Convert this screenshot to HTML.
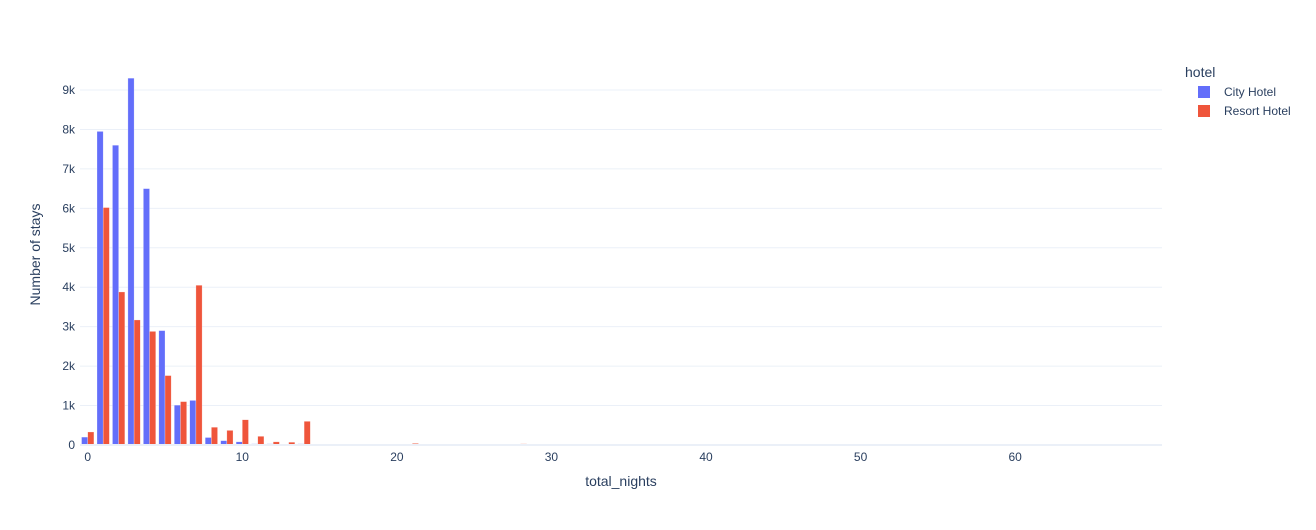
<!DOCTYPE html>
<html><head><meta charset="utf-8">
<style>
body{margin:0;background:#fff;font-family:"Liberation Sans",sans-serif;}
svg text{font-family:"Liberation Sans",sans-serif;fill:#2a3f5f;}
</style></head>
<body>
<svg id="chart" width="1316" height="525"></svg>
<script>
const categories = Array.from({length:70},(_, i)=>i);
const cityValues = [200,7950,7600,9300,6500,2900,1010,1130,190,110,80,30,30,20,30,10,10,8,5,5,5,8,3,3,3,3,3,3,5,2,2,1,1,1,1,1,1,1,1,1,1,1,1,1,1,1,1,1,1,1,1,1,1,1,1,1,1,1,1,1,1,1,1,1,1,1,1,1,1,1];
const resortValues = [330,6020,3880,3170,2880,1760,1100,4050,450,370,640,220,80,70,600,20,10,10,8,8,10,40,5,5,5,5,5,5,30,3,2,2,2,2,2,2,2,2,2,2,2,2,2,2,2,2,2,2,2,2,2,2,2,2,2,2,2,2,2,2,2,2,2,2,2,2,2,2,2,2];
const yTicks = [0,1000,2000,3000,4000,5000,6000,7000,8000,9000];
const yTickLabels = ["0","1k","2k","3k","4k","5k","6k","7k","8k","9k"];
const xTicks = [0,10,20,30,40,50,60];

const NS="http://www.w3.org/2000/svg";
const svg=document.getElementById('chart');
const L=80,R=1162,T=60,B=445;
const xMin=-0.5,xMax=69.5,yMax=9761;
const xs=v=>L+(v-xMin)/(xMax-xMin)*(R-L);
const ys=v=>B-v/yMax*(B-T);
function el(tag,attrs,parent){const e=document.createElementNS(NS,tag);for(const k in attrs)e.setAttribute(k,attrs[k]);(parent||svg).appendChild(e);return e;}

const grid=el('g',{});


yTicks.forEach((t,i)=>{
  if(t>0){const g=el('line',{x1:L,x2:R,y1:ys(t),y2:ys(t),stroke:'#ebf0f8','stroke-width':1},grid);
  
  }
  const tx=el('text',{x:L-5,y:ys(t)+4,'text-anchor':'end','font-size':12});
  tx.textContent=yTickLabels[i];
  
  
});
xTicks.forEach(t=>{
  const tx=el('text',{x:xs(t),y:B+16,'text-anchor':'middle','font-size':12});
  tx.textContent=String(t);
  
  
});
const bars=el('g',{});


const step=(R-L)/(xMax-xMin);
const bw=step*0.8/2;
categories.forEach((c,i)=>{
  const x0=xs(c)-step*0.4;
  [[cityValues[i],'#636efa','bar-city'],[resortValues[i],'#ef553b','bar-resort']].forEach((s,j)=>{
    const v=s[0];
    const r=el('rect',{x:x0+j*bw,y:ys(v),width:bw,height:B-ys(v),fill:s[1],stroke:'#fff','stroke-width':0.5,'stroke-opacity':0.5},bars);
    
    
  });
});
const zl=el('line',{x1:L,x2:R,y1:B,y2:B,stroke:'#ebf0f8','stroke-width':2});


const xt=el('text',{x:(L+R)/2,y:486,'text-anchor':'middle','font-size':14});
xt.textContent='total_nights';


const yt=el('text',{x:0,y:0,'text-anchor':'middle','font-size':14,transform:`translate(40,${(T+B)/2+2}) rotate(-90)`});
yt.textContent='Number of stays';


const lg=el('g',{});


const lt=el('text',{x:1185,y:77,'font-size':14},lg);
lt.textContent='hotel';


[['City Hotel','#636efa',92],['Resort Hotel','#ef553b',111]].forEach(e=>{
  const g=el('g',{},lg);
  
  
  el('rect',{x:1198,y:e[2]-6,width:12,height:12,fill:e[1]},g);
  const t=el('text',{x:1224,y:e[2]+4,'font-size':12},g);
  t.textContent=e[0];
});
</script>
</body></html>
